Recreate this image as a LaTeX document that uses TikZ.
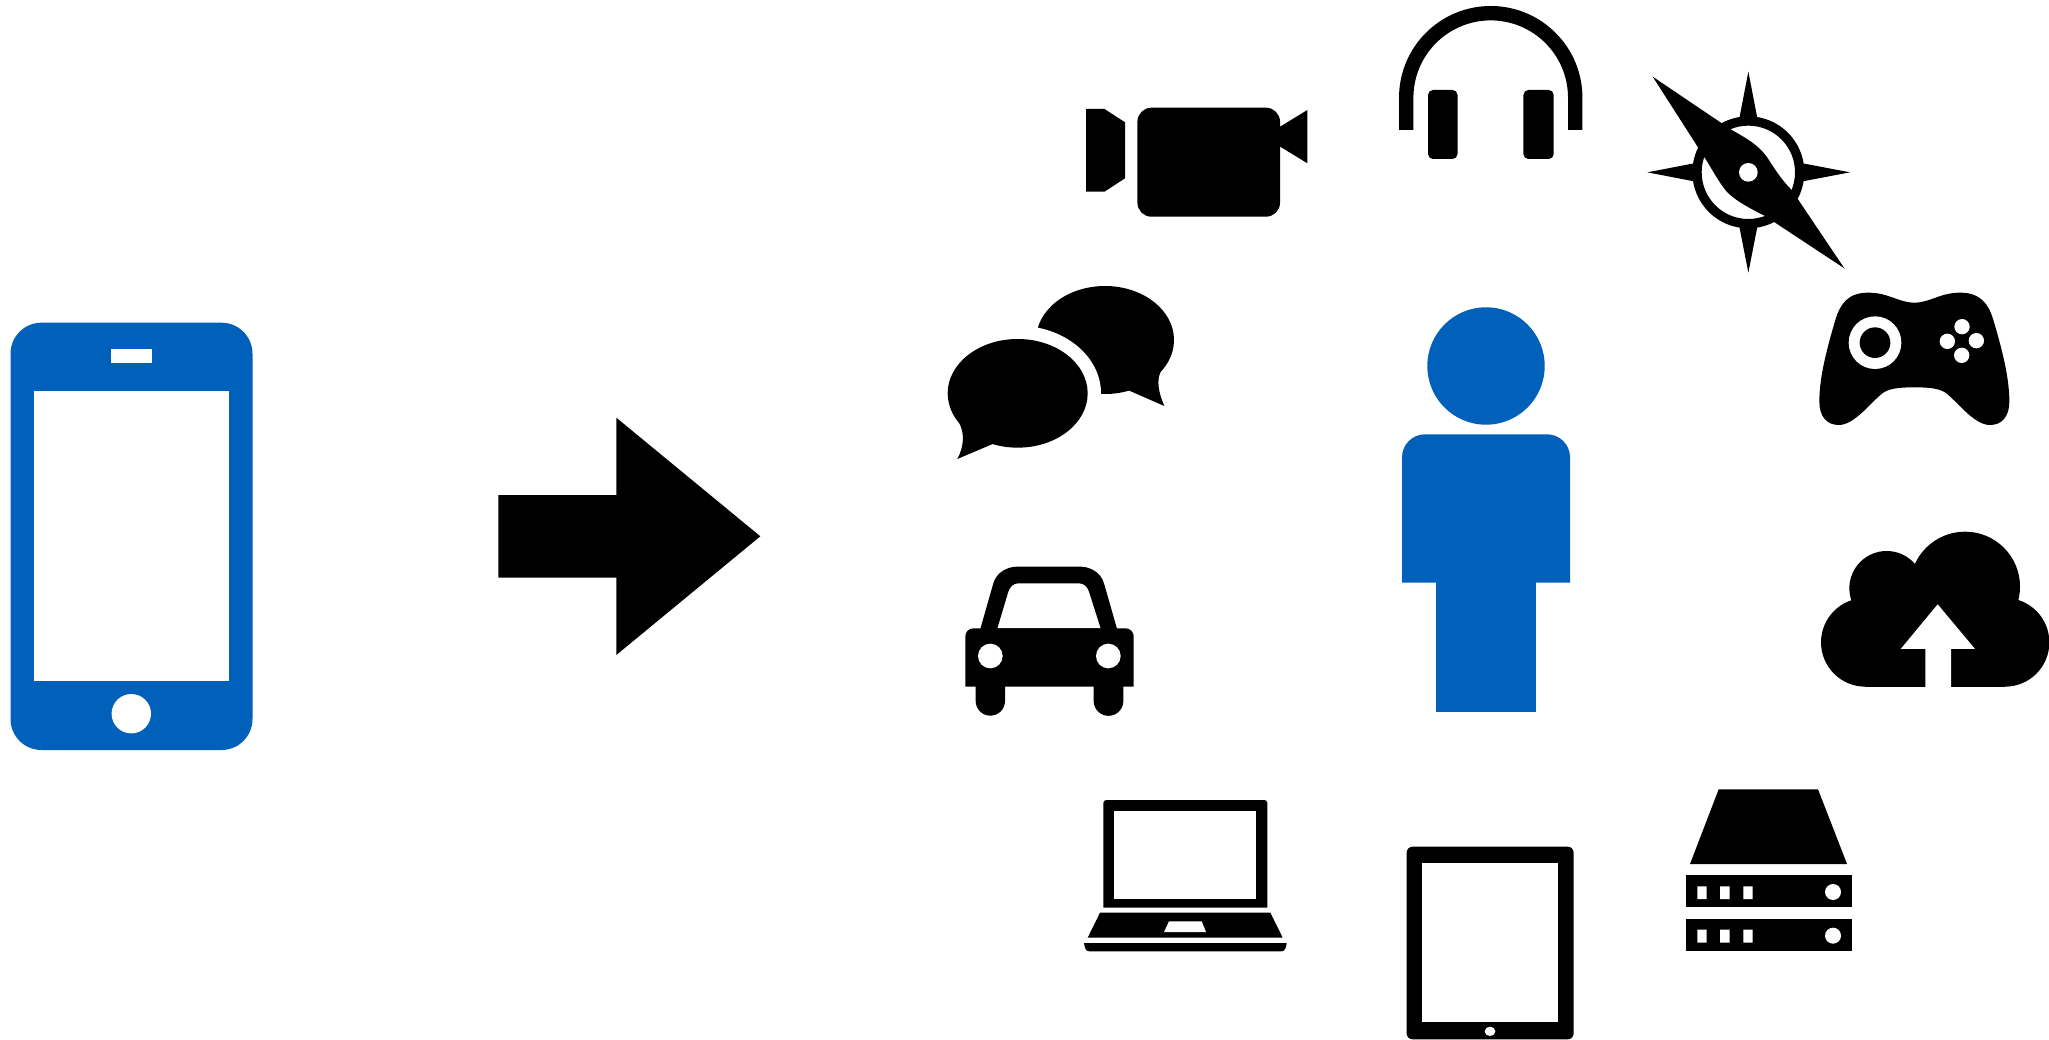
\documentclass[tikz,border=0pt]{standalone}
\definecolor{iconblue}{RGB}{1,96,185}
\tikzset{
  ink/.style={fill=black},
  blue ink/.style={fill=iconblue},
  paper/.style={fill=white},
  zoomed/.style={scale=1/3}
}
\begin{document}
\begin{tikzpicture}[x=0.01cm,y=-0.01cm]
\useasboundingbox (0,0) rectangle (2049,1040);
\fill[paper] (0,0) rectangle (2049,1040);

% phone
\fill[blue ink,rounded corners=0.31cm] (10.5,322.7) rectangle (252.5,750);
\fill[paper] (111,349.3) rectangle (152,363);
\fill[paper] (34,391) rectangle (229.3,681.3);
\fill[paper] (131.3,713.7) circle[radius=19.7];

% arrow
\fill[ink] (498.3,495) -- (616.3,495) -- (616.3,417.7) -- (760.3,536.3) -- (616.3,655) -- (616.3,577.7) -- (498.3,577.7) -- cycle;

% person
\fill[blue ink] (1486,366) circle[radius=58.7];
\fill[blue ink,rounded corners=0.23cm] (1402,582.7) -- (1402,434.3) -- (1570,434.3) [sharp corners] -- (1570,582.7) -- cycle;
\fill[blue ink] (1436,580) rectangle (1536,712);

% camera
\fill[ink] (1086,109) -- (1104.5,109) -- (1125,122.3) -- (1125,178.3) -- (1104.5,191.7) -- (1086,191.7) -- cycle;
\fill[ink,rounded corners=0.14cm] (1137.4,107.7) rectangle (1280,216.7);
\fill[ink] (1279,127.3) -- (1307.4,110) -- (1307.4,163.3) -- (1279,146) -- cycle;

% headset
\fill[ink] (1399,130) -- (1399,97.7) arc[start angle=180,end angle=360,radius=91.7] -- (1582.4,130) -- (1568,130) -- (1568,97.7) arc[start angle=360,end angle=180,radius=77.3] -- (1413.4,130) -- cycle;
\fill[ink,rounded corners=0.05cm] (1428,90) rectangle (1457.5,159);
\fill[ink,rounded corners=0.05cm] (1523.4,90) rectangle (1553.7,159);

% compass
\begin{scope}[shift={(1630,50)},zoomed]
\fill[ink,even odd rule] (355,367) circle[radius=168] (355,367) circle[radius=140];
\fill[ink] (355,65) -- (382,205) -- (328,205) -- cycle;
\fill[ink] (355,668) -- (328,530) -- (382,530) -- cycle;
\fill[ink] (52,367) -- (192,340) -- (192,394) -- cycle;
\fill[ink] (660,367) -- (518,340) -- (518,394) -- cycle;
\fill[ink] (68,80) -- (305,240) .. controls (345,262) and (385,285) .. (410,320) .. controls (430,350) and (450,385) .. (485,420) -- (643,655) -- (405,498) .. controls (360,475) and (320,455) .. (290,425) .. controls (265,395) and (245,355) .. (222,320) -- cycle;
\fill[paper] (355,367) circle[radius=28];
\end{scope}

% gamepad and cloud
\begin{scope}[shift={(1780,270)},zoomed]
\fill[ink] (403,98) .. controls (450,98) and (480,68) .. (540,68)
 .. controls (600,68) and (625,100) .. (640,150)
 .. controls (665,235) and (688,320) .. (688,395)
 .. controls (688,440) and (665,465) .. (630,465)
 .. controls (585,465) and (540,405) .. (505,375)
 .. controls (485,355) and (450,352) .. (403,352)
 .. controls (356,352) and (321,355) .. (301,375)
 .. controls (266,405) and (221,465) .. (176,465)
 .. controls (141,465) and (118,440) .. (118,395)
 .. controls (118,320) and (141,235) .. (166,150)
 .. controls (181,100) and (205,68) .. (265,68)
 .. controls (326,68) and (356,98) .. (403,98) -- cycle;
\fill[paper] (285,218) circle[radius=79];
\fill[ink] (285,218) circle[radius=46];
\fill[paper] (546,170) circle[radius=23] (502,214) circle[radius=23] (589,212) circle[radius=23] (545,256) circle[radius=23];
% cloud
\fill[ink] (555,950) circle[radius=165] (320,955) circle[radius=112] (256,1117) circle[radius=133] (675,1117) circle[radius=133];
\fill[ink] (256,960) rectangle (675,1250);
\fill[paper] (473,1003) -- (585,1137) -- (513,1137) -- (513,1256) -- (436,1256) -- (436,1137) -- (362,1137) -- cycle;
\end{scope}

% chat and car
\begin{scope}[shift={(930,270)},zoomed]
\fill[ink] (525,210) ellipse[x radius=207,y radius=162];
\fill[ink] (692,305) .. controls (680,330) and (684,365) .. (703,408) -- (600,363) -- (520,300) -- cycle;
\fill[paper] (263,370) ellipse[x radius=250,y radius=203];
\fill[ink] (263,370) ellipse[x radius=210,y radius=163];
\fill[ink] (88,460) .. controls (104,490) and (102,530) .. (82,567) -- (188,522) -- (250,480) -- cycle;
% car
\fill[ink,rounded corners=0.08cm] (106,1250) -- (106,1075) -- (611,1075) [sharp corners] -- (611,1250) -- cycle;
\fill[ink] (137,1240) -- (225,1240) -- (225,1293) arc[start angle=0,end angle=180,radius=44] -- cycle;
\fill[ink] (491,1240) -- (580,1240) -- (580,1293) arc[start angle=0,end angle=180,radius=44.5] -- cycle;
\fill[ink,even odd rule] (150,1080) -- (190,940) .. controls (200,905) and (235,890) .. (260,890) -- (452,890) .. controls (477,890) and (512,905) .. (522,940) -- (562,1080) -- cycle
 (202,1075) -- (235,965) .. controls (240,950) and (250,940) .. (265,940) -- (447,940) .. controls (462,940) and (472,950) .. (477,965) -- (512,1075) -- cycle;
\fill[paper] (181,1158) circle[radius=37] (535,1158) circle[radius=37];
\end{scope}

% laptop and tablet
\begin{scope}[shift={(1060,780)},zoomed]
\fill[ink,rounded corners=0.03cm] (130,383) -- (130,60) -- (622,60) [sharp corners] -- (622,383) -- cycle;
\fill[paper] (163,94) rectangle (588,358);
\fill[ink] (120,398) -- (631,398) -- (668,473) -- (83,473) -- cycle;
\fill[paper] (327,424) -- (425,424) -- (438,456) -- (312,456) -- cycle;
\fill[ink] (72,489) -- (680,489) .. controls (678,505) and (674,514) .. (664,514) -- (88,514) .. controls (78,514) and (74,505) .. (72,489) -- cycle;
\fill[ink,rounded corners=0.06cm] (1040,200) rectangle (1541,778);
\fill[paper] (1086,250) rectangle (1495,727);
\fill[paper] (1290,754) ellipse[x radius=16,y radius=14];
\end{scope}

% server
\begin{scope}[shift={(1660,770)},zoomed]
\fill[ink] (176,58) -- (474,58) -- (561,282) -- (90,282) -- cycle;
\fill[ink] (77,316) rectangle (575,412);
\fill[ink] (77,447) rectangle (575,543);
\fill[paper] (112,349) rectangle (140,387) (180,349) rectangle (209,387) (250,349) rectangle (278,387);
\fill[paper] (112,479) rectangle (140,518) (180,479) rectangle (209,518) (250,479) rectangle (278,518);
\fill[paper] (519,366) circle[radius=24] (519,497) circle[radius=24];
\end{scope}
\end{tikzpicture}
\end{document}
